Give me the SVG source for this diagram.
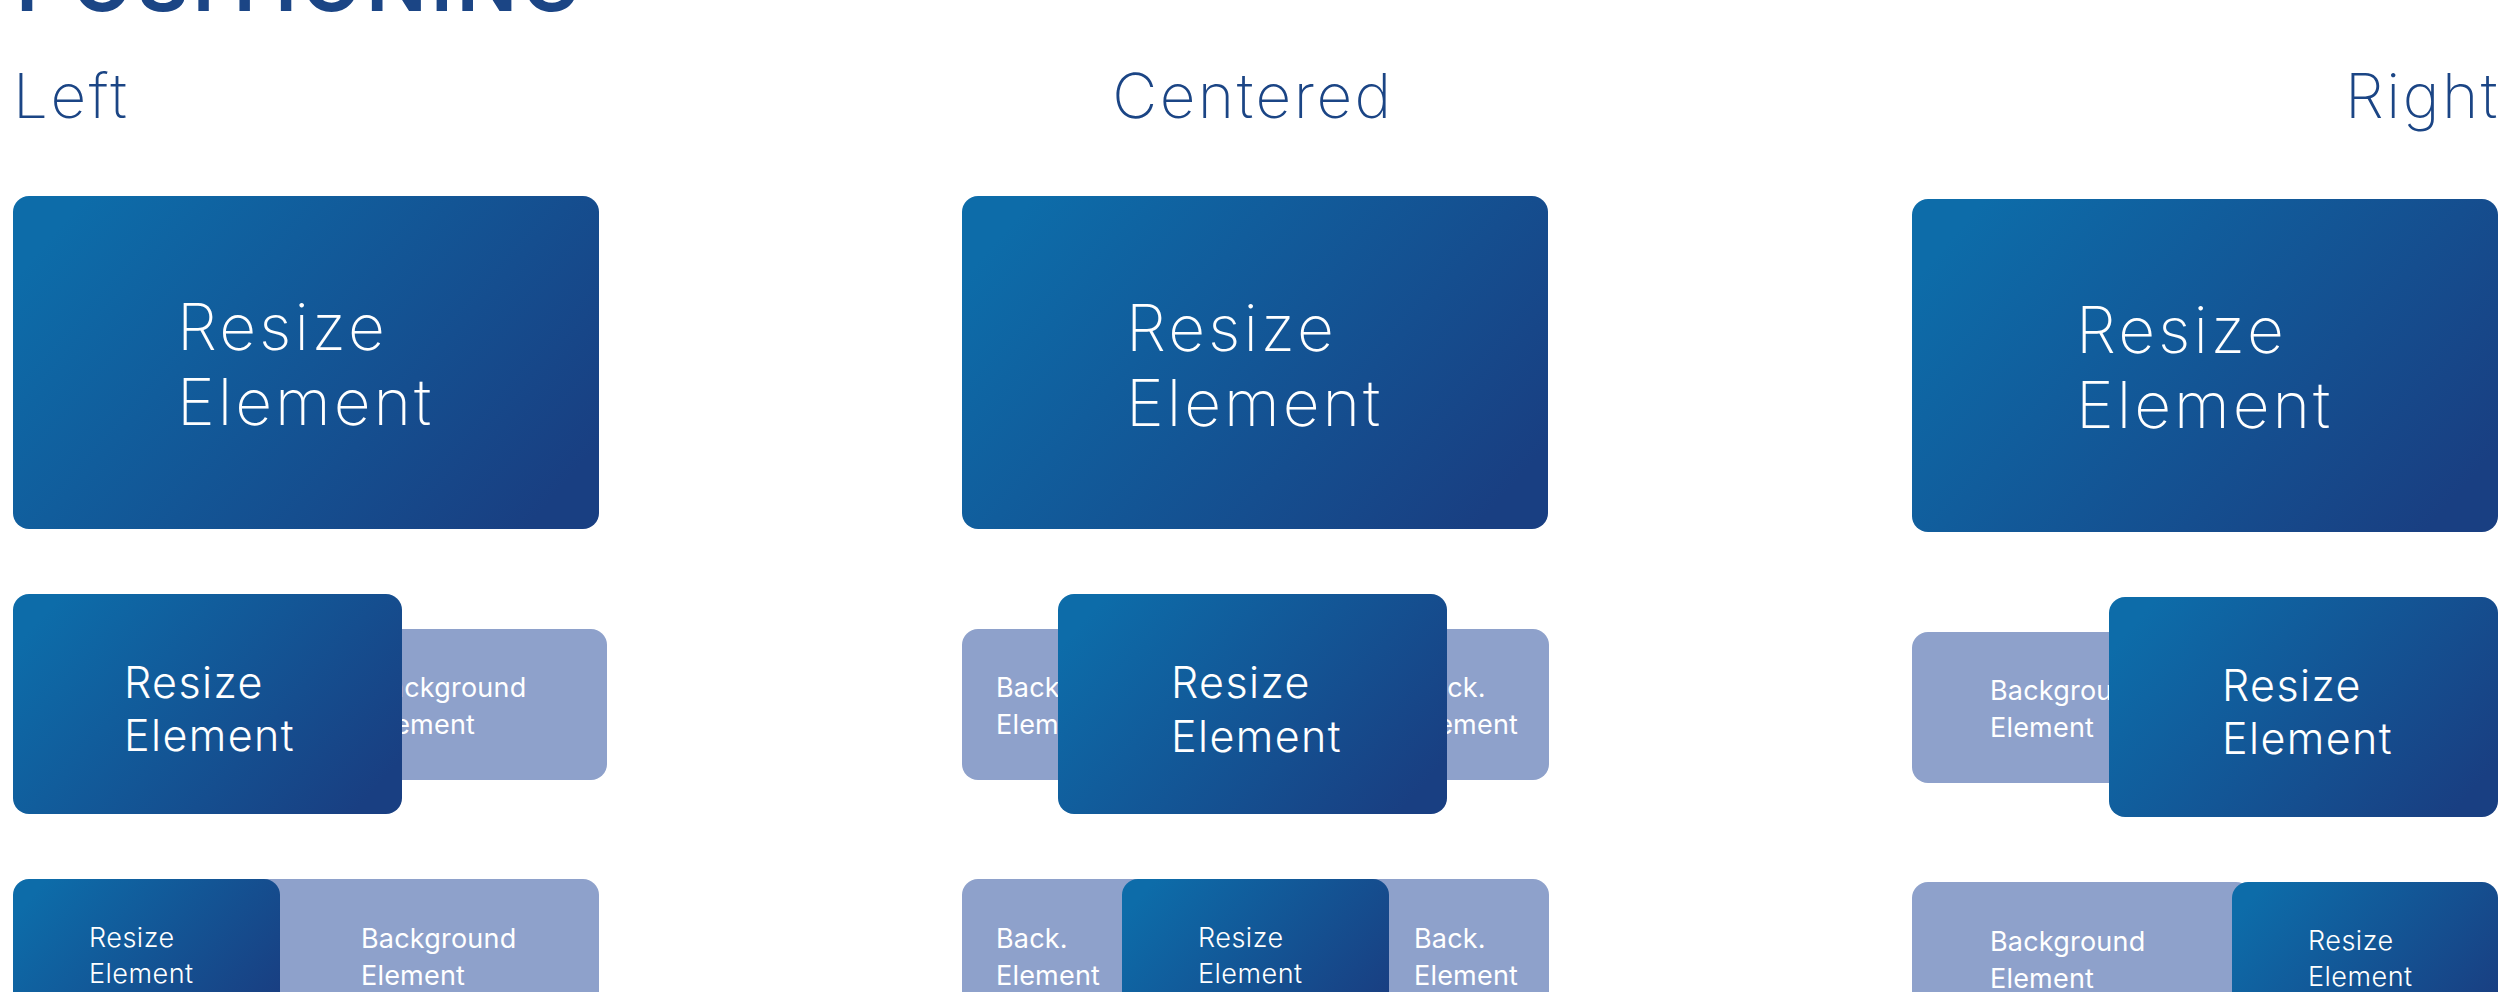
<svg xmlns="http://www.w3.org/2000/svg" width="2503" height="992" viewBox="0 0 2503 992">
<defs>
<linearGradient id="g" x1="0" y1="0.25" x2="1" y2="0.75">
<stop offset="0" stop-color="#0d6ca9"/>
<stop offset="1" stop-color="#193f82"/>
</linearGradient>
<style>
.dark{fill:url(#g)}
.light{fill:#8ea1cb}
.t1{font-family:Inter,"Liberation Sans",sans-serif;font-weight:200;font-size:64px;letter-spacing:3px;fill:#fff}
.t2{font-family:Inter,"Liberation Sans",sans-serif;font-weight:300;font-size:43px;letter-spacing:1.4px;fill:#fff}
.t3{font-family:Inter,"Liberation Sans",sans-serif;font-weight:300;font-size:27px;letter-spacing:0.5px;fill:#fff}
.tb{font-family:Inter,"Liberation Sans",sans-serif;font-weight:400;font-size:27px;letter-spacing:0.2px;fill:#fff}
.h{font-family:Inter,"Liberation Sans",sans-serif;font-weight:200;font-size:62px;letter-spacing:2.5px;fill:#1b4585}
.title{font-family:Inter,"Liberation Sans",sans-serif;font-weight:600;font-size:80px;fill:#1b4585}
</style>
</defs>
<rect width="2503" height="992" fill="#fff"/>
<g id="title"><text class="title" x="16" y="11" textLength="565" lengthAdjust="spacing">POSITIONING</text></g>
<g id="h-left"><text class="h" x="13" y="118">Left</text></g>
<g id="h-centered"><text class="h" x="1253" y="118" text-anchor="middle">Centered</text></g>
<g id="h-right"><text class="h" x="2500" y="118" text-anchor="end">Right</text></g>

<!-- Row 1 -->
<g id="left-r1"><rect class="dark" x="13" y="196" width="586" height="333" rx="16"/><text class="t1" x="177" y="350">Resize</text><text class="t1" x="177" y="425">Element</text></g>
<g id="center-r1"><rect class="dark" x="962" y="196" width="586" height="333" rx="16"/><text class="t1" x="1126" y="351">Resize</text><text class="t1" x="1126" y="426">Element</text></g>
<g id="right-r1"><rect class="dark" x="1912" y="199" width="586" height="333" rx="16"/><text class="t1" x="2076" y="353">Resize</text><text class="t1" x="2076" y="428">Element</text></g>

<!-- Row 2 -->
<g id="left-r2-bg"><rect class="light" x="293" y="629" width="314" height="151" rx="16"/><text class="tb" x="371" y="697">Background</text><text class="tb" x="371" y="734">Element</text></g>
<g id="left-r2"><rect class="dark" x="13" y="594" width="389" height="220" rx="16"/><text class="t2" x="124" y="698">Resize</text><text class="t2" x="124" y="751">Element</text></g>

<g id="center-r2-bg-left"><rect class="light" x="962" y="629" width="169" height="151" rx="16"/><text class="tb" x="996" y="697">Back.</text><text class="tb" x="996" y="734">Element</text></g>
<g id="center-r2-bg-right"><rect class="light" x="1380" y="629" width="169" height="151" rx="16"/><text class="tb" x="1414" y="697">Back.</text><text class="tb" x="1414" y="734">Element</text></g>
<g id="center-r2"><rect class="dark" x="1058" y="594" width="389" height="220" rx="16"/><text class="t2" x="1171" y="698">Resize</text><text class="t2" x="1171" y="752">Element</text></g>

<g id="right-r2-bg"><rect class="light" x="1912" y="632" width="314" height="151" rx="16"/><text class="tb" x="1990" y="700">Background</text><text class="tb" x="1990" y="737">Element</text></g>
<g id="right-r2"><rect class="dark" x="2109" y="597" width="389" height="220" rx="16"/><text class="t2" x="2222" y="701">Resize</text><text class="t2" x="2222" y="754">Element</text></g>

<!-- Row 3 -->
<g id="left-r3-bg"><rect class="light" x="250" y="879" width="349" height="150" rx="16"/><text class="tb" x="361" y="948">Background</text><text class="tb" x="361" y="985">Element</text></g>
<g id="left-r3"><rect class="dark" x="13" y="879" width="267" height="150" rx="16"/><text class="t3" x="89" y="947">Resize</text><text class="t3" x="89" y="983">Element</text></g>

<g id="center-r3-bg-left"><rect class="light" x="962" y="879" width="220" height="150" rx="16"/><text class="tb" x="996" y="948">Back.</text><text class="tb" x="996" y="985">Element</text></g>
<g id="center-r3-bg-right"><rect class="light" x="1330" y="879" width="219" height="150" rx="16"/><text class="tb" x="1414" y="948">Back.</text><text class="tb" x="1414" y="985">Element</text></g>
<g id="center-r3"><rect class="dark" x="1122" y="879" width="267" height="150" rx="16"/><text class="t3" x="1198" y="947">Resize</text><text class="t3" x="1198" y="983">Element</text></g>

<g id="right-r3-bg"><rect class="light" x="1912" y="882" width="340" height="150" rx="16"/><text class="tb" x="1990" y="951">Background</text><text class="tb" x="1990" y="988">Element</text></g>
<g id="right-r3"><rect class="dark" x="2232" y="882" width="266" height="150" rx="16"/><text class="t3" x="2308" y="950">Resize</text><text class="t3" x="2308" y="986">Element</text></g>

<g id="connectors"/>
</svg>
